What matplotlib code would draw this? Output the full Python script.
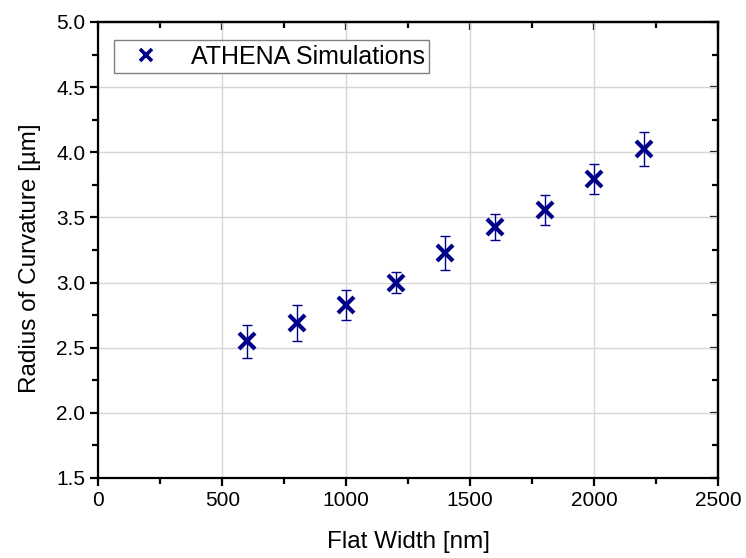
import matplotlib
matplotlib.use("Agg")
import matplotlib.pyplot as plt
from matplotlib.ticker import MultipleLocator, FormatStrFormatter
from matplotlib.lines import Line2D

plt.rcParams['font.family'] = ['Liberation Sans', 'DejaVu Sans']

flat_width = [600, 800, 1000, 1200, 1400, 1600, 1800, 2000, 2200]
radius = [2.55, 2.69, 2.83, 3.00, 3.225, 3.424, 3.557, 3.795, 4.023]
radius_err = [0.127, 0.136, 0.115, 0.083, 0.13, 0.10, 0.118, 0.115, 0.129]

fig = plt.figure(figsize=(7.46, 5.58), dpi=100)
ax = fig.add_axes([0.132, 0.1434, 0.8305, 0.8172])

color = '#000088'
cont = ax.errorbar(flat_width, radius, yerr=radius_err, fmt='none',
                   ecolor=color, elinewidth=1, capsize=3.5, capthick=1, zorder=3)
for cap in cont[1]:
    cap.set_markeredgewidth(1)
ax.plot(flat_width, radius, 'x', color=color, markersize=11,
        markeredgewidth=3, zorder=4)

ax.set_xlim(0, 2500)
ax.set_ylim(1.5, 5.0)
ax.xaxis.set_major_locator(MultipleLocator(500))
ax.xaxis.set_minor_locator(MultipleLocator(250))
ax.yaxis.set_major_locator(MultipleLocator(0.5))
ax.yaxis.set_minor_locator(MultipleLocator(0.25))
ax.yaxis.set_major_formatter(FormatStrFormatter('%.1f'))

ax.grid(True, which='major', color='#d6d6d6', linewidth=1, zorder=0)
ax.set_axisbelow(True)

for s in ax.spines.values():
    s.set_linewidth(1.6)

ax.tick_params(axis='both', which='both', labelsize=15, width=1.6)
ax.tick_params(axis='both', which='major', length=6)
ax.tick_params(axis='both', which='minor', length=4)
ax.tick_params(axis='x', which='both', direction='out', bottom=True, top=False)
ax.tick_params(axis='y', which='both', direction='out', left=True, right=False)

sec_x = ax.secondary_xaxis('top')
sec_x.xaxis.set_major_locator(MultipleLocator(500))
sec_x.xaxis.set_minor_locator(MultipleLocator(250))
sec_x.tick_params(axis='x', which='both', direction='in', labeltop=False, width=1.6)
sec_x.tick_params(which='major', length=6)
sec_x.tick_params(which='minor', length=4)
sec_x.spines['top'].set_linewidth(1.6)

sec_y = ax.secondary_yaxis('right')
sec_y.yaxis.set_major_locator(MultipleLocator(0.5))
sec_y.yaxis.set_minor_locator(MultipleLocator(0.25))
sec_y.tick_params(axis='y', which='both', direction='in', labelright=False, width=1.6)
sec_y.tick_params(which='major', length=6)
sec_y.tick_params(which='minor', length=4)
sec_y.spines['right'].set_linewidth(1.6)

ax.set_xlabel('Flat Width [nm]', fontsize=17.5, labelpad=15)
ax.set_ylabel('Radius of Curvature [µm]', fontsize=17.5)
ax.yaxis.set_label_coords(-0.0935, 0.483)

handle = Line2D([], [], linestyle='none', marker='x', color=color,
                markersize=9, markeredgewidth=2.6)
leg = ax.legend([handle], ['ATHENA Simulations'], loc='upper left',
                bbox_to_anchor=(0.025, 0.96), fontsize=18,
                frameon=True, fancybox=False, edgecolor='#808080',
                framealpha=1, handletextpad=0.7, borderpad=0.18,
                handlelength=2.2, borderaxespad=0)
leg.get_frame().set_linewidth(1)

fig.savefig('out.png', dpi=100)
